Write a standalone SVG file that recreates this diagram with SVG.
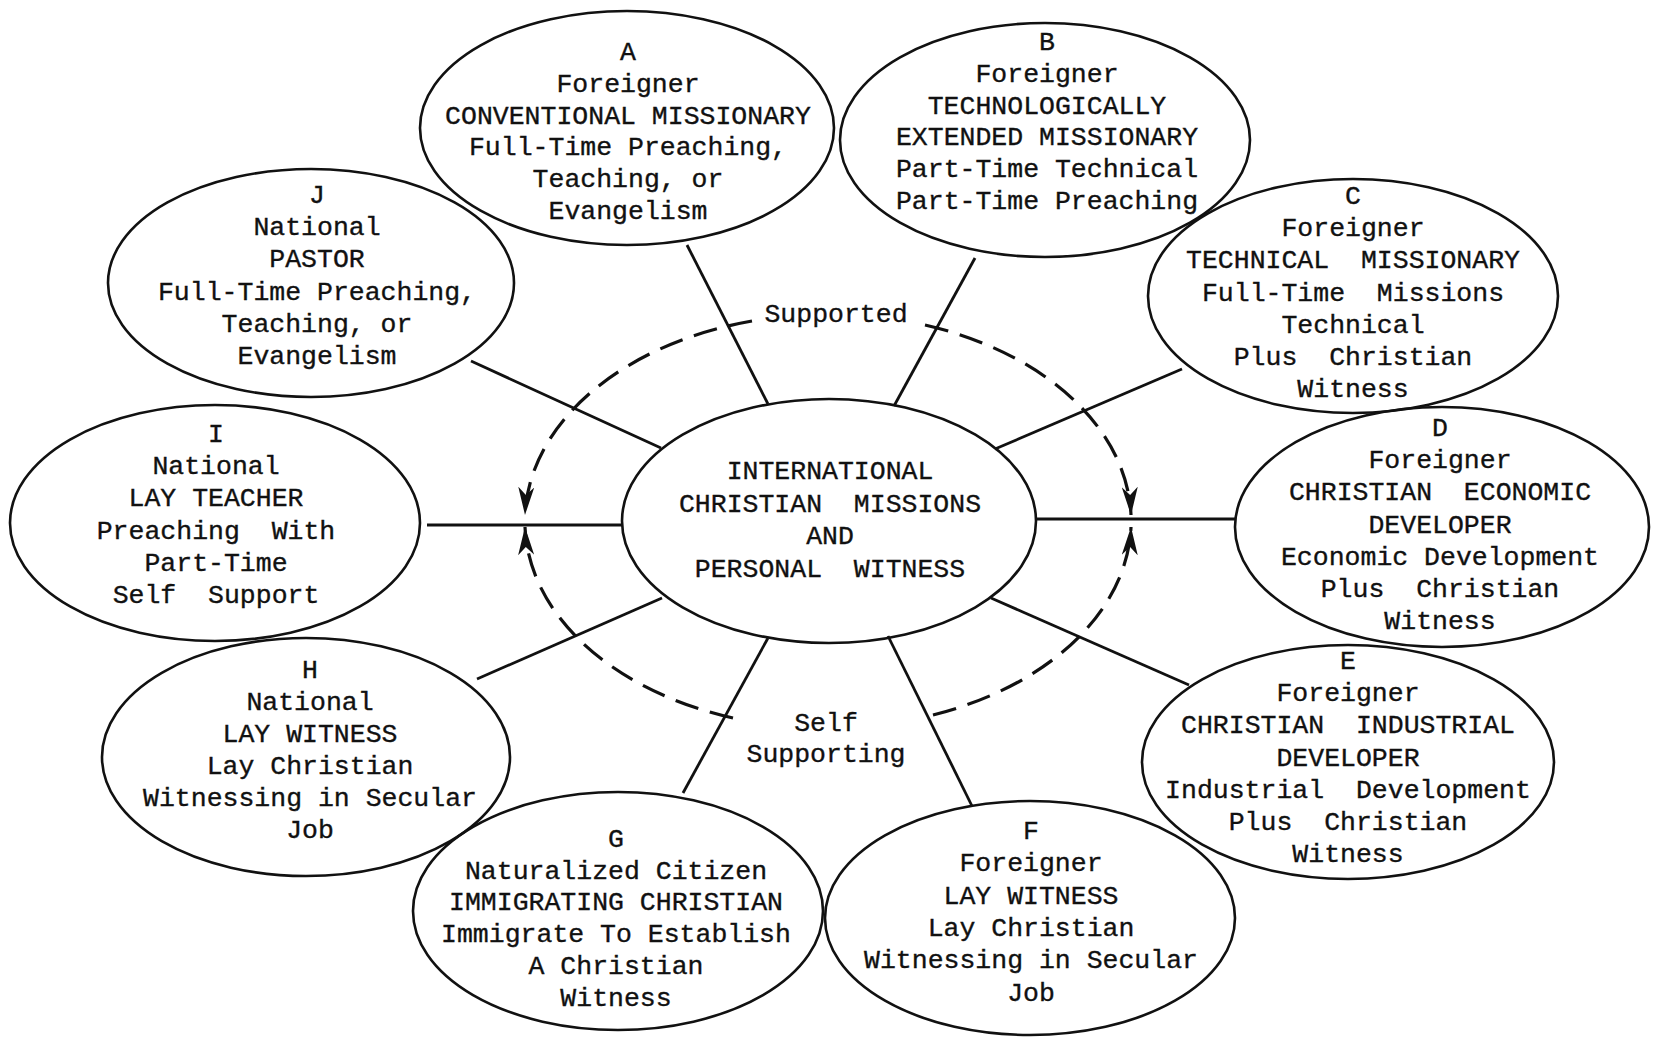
<svg xmlns="http://www.w3.org/2000/svg" width="1653" height="1037" viewBox="0 0 1653 1037" xml:space="preserve">
<style>
.node ellipse{fill:none;stroke:#111;stroke-width:2.6}
.t{font-family:"Liberation Mono","Courier New",monospace;font-size:26.5px;fill:#111;stroke:#111;stroke-width:0.35;text-anchor:middle;white-space:pre}
.spoke{stroke:#111;stroke-width:2.8;fill:none}
.loop{stroke:#111;stroke-width:3.2;fill:none;stroke-dasharray:24 12}
</style>
<defs>
<marker id="arr" markerUnits="userSpaceOnUse" markerWidth="30" markerHeight="16" refX="28" refY="8" orient="auto" viewBox="0 0 30 16">
<path d="M0,0 L28,8 L0,16 L8,8 z" fill="#111"/>
</marker>
</defs>
<rect width="1653" height="1037" fill="#fff"/>
<g id="connectors">
<line class="spoke" x1="687" y1="245" x2="768" y2="404"/>
<line class="spoke" x1="975" y1="258" x2="894" y2="406"/>
<line class="spoke" x1="471" y1="361" x2="661" y2="448"/>
<line class="spoke" x1="1182" y1="369" x2="995" y2="449"/>
<line class="spoke" x1="427" y1="525" x2="622" y2="525"/>
<line class="spoke" x1="1036" y1="519" x2="1236" y2="519"/>
<line class="spoke" x1="477" y1="679" x2="662" y2="598"/>
<line class="spoke" x1="991" y1="598" x2="1189" y2="685"/>
<line class="spoke" x1="683" y1="793" x2="768" y2="638"/>
<line class="spoke" x1="888" y1="636" x2="972" y2="806"/>
<path class="loop" d="M752,321 A303,207 0 0 0 525,515" marker-end="url(#arr)"/>
<path class="loop" d="M925,325 A303,207 0 0 1 1131,515" marker-end="url(#arr)"/>
<path class="loop" d="M733,718 A303,207 0 0 1 525,527" marker-end="url(#arr)"/>
<path class="loop" d="M933,715 A303,207 0 0 0 1131,527" marker-end="url(#arr)"/>
<text class="t" x="836" y="322">Supported</text>
<text class="t" x="826" y="731">Self</text>
<text class="t" x="826" y="762">Supporting</text>
</g>
<g id="node-center" class="node">
<ellipse cx="829" cy="521" rx="207" ry="122"/>
<text class="t" x="830" y="479">INTERNATIONAL</text>
<text class="t" x="830" y="512">CHRISTIAN  MISSIONS</text>
<text class="t" x="830" y="544">AND</text>
<text class="t" x="830" y="577">PERSONAL  WITNESS</text>
</g>
<g id="node-A" class="node">
<ellipse cx="627" cy="128" rx="207" ry="117"/>
<text class="t" x="628" y="60">A</text>
<text class="t" x="628" y="92">Foreigner</text>
<text class="t" x="628" y="124">CONVENTIONAL MISSIONARY</text>
<text class="t" x="628" y="155">Full-Time Preaching,</text>
<text class="t" x="628" y="187">Teaching, or</text>
<text class="t" x="628" y="219">Evangelism</text>
</g>
<g id="node-B" class="node">
<ellipse cx="1045" cy="140" rx="205" ry="117"/>
<text class="t" x="1047" y="50">B</text>
<text class="t" x="1047" y="82">Foreigner</text>
<text class="t" x="1047" y="114">TECHNOLOGICALLY</text>
<text class="t" x="1047" y="145">EXTENDED MISSIONARY</text>
<text class="t" x="1047" y="177">Part-Time Technical</text>
<text class="t" x="1047" y="209">Part-Time Preaching</text>
</g>
<g id="node-C" class="node">
<ellipse cx="1353" cy="296" rx="205" ry="117"/>
<text class="t" x="1353" y="204">C</text>
<text class="t" x="1353" y="236">Foreigner</text>
<text class="t" x="1353" y="268">TECHNICAL  MISSIONARY</text>
<text class="t" x="1353" y="301">Full-Time  Missions</text>
<text class="t" x="1353" y="333">Technical</text>
<text class="t" x="1353" y="365">Plus  Christian</text>
<text class="t" x="1353" y="397">Witness</text>
</g>
<g id="node-D" class="node">
<ellipse cx="1442" cy="527" rx="207" ry="120"/>
<text class="t" x="1440" y="436">D</text>
<text class="t" x="1440" y="468">Foreigner</text>
<text class="t" x="1440" y="500">CHRISTIAN  ECONOMIC</text>
<text class="t" x="1440" y="533">DEVELOPER</text>
<text class="t" x="1440" y="565">Economic Development</text>
<text class="t" x="1440" y="597">Plus  Christian</text>
<text class="t" x="1440" y="629">Witness</text>
</g>
<g id="node-E" class="node">
<ellipse cx="1348" cy="762" rx="206" ry="117"/>
<text class="t" x="1348" y="669">E</text>
<text class="t" x="1348" y="701">Foreigner</text>
<text class="t" x="1348" y="733">CHRISTIAN  INDUSTRIAL</text>
<text class="t" x="1348" y="766">DEVELOPER</text>
<text class="t" x="1348" y="798">Industrial  Development</text>
<text class="t" x="1348" y="830">Plus  Christian</text>
<text class="t" x="1348" y="862">Witness</text>
</g>
<g id="node-F" class="node">
<ellipse cx="1030" cy="918" rx="205" ry="117"/>
<text class="t" x="1031" y="839">F</text>
<text class="t" x="1031" y="871">Foreigner</text>
<text class="t" x="1031" y="904">LAY WITNESS</text>
<text class="t" x="1031" y="936">Lay Christian</text>
<text class="t" x="1031" y="968">Witnessing in Secular</text>
<text class="t" x="1031" y="1001">Job</text>
</g>
<g id="node-G" class="node">
<ellipse cx="618" cy="911" rx="205" ry="119"/>
<text class="t" x="616" y="847">G</text>
<text class="t" x="616" y="879">Naturalized Citizen</text>
<text class="t" x="616" y="910">IMMIGRATING CHRISTIAN</text>
<text class="t" x="616" y="942">Immigrate To Establish</text>
<text class="t" x="616" y="974">A Christian</text>
<text class="t" x="616" y="1006">Witness</text>
</g>
<g id="node-H" class="node">
<ellipse cx="306" cy="757" rx="204" ry="119"/>
<text class="t" x="310" y="678">H</text>
<text class="t" x="310" y="710">National</text>
<text class="t" x="310" y="742">LAY WITNESS</text>
<text class="t" x="310" y="774">Lay Christian</text>
<text class="t" x="310" y="806">Witnessing in Secular</text>
<text class="t" x="310" y="838">Job</text>
</g>
<g id="node-I" class="node">
<ellipse cx="215" cy="523" rx="205" ry="118"/>
<text class="t" x="216" y="442">I</text>
<text class="t" x="216" y="474">National</text>
<text class="t" x="216" y="506">LAY TEACHER</text>
<text class="t" x="216" y="539">Preaching  With</text>
<text class="t" x="216" y="571">Part-Time</text>
<text class="t" x="216" y="603">Self  Support</text>
</g>
<g id="node-J" class="node">
<ellipse cx="311" cy="283" rx="203" ry="114"/>
<text class="t" x="317" y="203">J</text>
<text class="t" x="317" y="235">National</text>
<text class="t" x="317" y="267">PASTOR</text>
<text class="t" x="317" y="300">Full-Time Preaching,</text>
<text class="t" x="317" y="332">Teaching, or</text>
<text class="t" x="317" y="364">Evangelism</text>
</g>
</svg>
